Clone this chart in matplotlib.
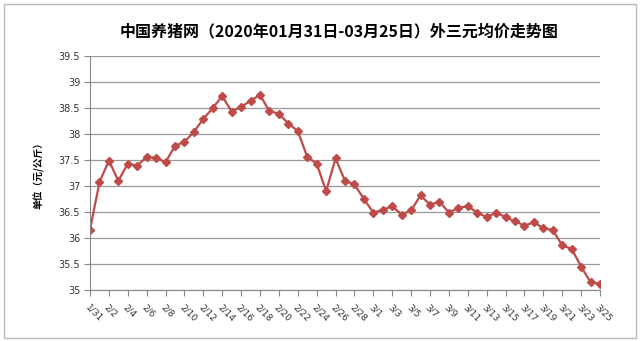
import matplotlib
matplotlib.use('Agg')
import matplotlib.pyplot as plt
from matplotlib.patches import Rectangle
import datetime as dt

plt.rcParams['font.family'] = ['Noto Sans CJK SC', 'DejaVu Sans']

# daily dates 2020-01-31 .. 2020-03-25
start = dt.date(2020, 1, 31)
dates = [start + dt.timedelta(days=i) for i in range(55)]
labels = [f'{d.month}/{d.day}' for d in dates]

# average price (yuan/kg)
prices = [36.16, 37.07, 37.49, 37.10, 37.43, 37.39, 37.56, 37.54, 37.46, 37.77,
          37.85, 38.04, 38.29, 38.50, 38.73, 38.43, 38.52, 38.64, 38.75, 38.44,
          38.39, 38.20, 38.06, 37.56, 37.43, 36.90, 37.53, 37.10, 37.03, 36.75,
          36.49, 36.54, 36.61, 36.45, 36.53, 36.82, 36.64, 36.70, 36.49, 36.58,
          36.61, 36.49, 36.40, 36.49, 36.40, 36.32, 36.24, 36.30, 36.19, 36.15,
          35.86, 35.79, 35.45, 35.15, 35.12]

yticks = [35, 35.5, 36, 36.5, 37, 37.5, 38, 38.5, 39, 39.5]

fig = plt.figure(figsize=(6.4, 3.41), dpi=100)
ax = fig.add_axes([90/640, 51/341, 510/640, 234/341])

x = list(range(len(prices)))
ax.plot(x, prices, color='#BE4B48', lw=1.6, marker='D', ms=3.8, mec='#BE4B48', mfc='#BE4B48')

ax.set_xlim(0, len(prices) - 1)
ax.set_ylim(35, 39.5)
ax.set_yticks(yticks)
ax.set_yticklabels([f'{v:g}' for v in yticks], fontsize=7, color='#333333', family='DejaVu Sans')
ax.set_xticks(x[::2])
ax.set_xticklabels(labels[::2], rotation=-45, ha='left', va='top', fontsize=6.5,
                   color='#333333', family='DejaVu Sans', rotation_mode='anchor')

ax.grid(axis='y', color='#999999', lw=0.9)
ax.set_axisbelow(True)
for s in ['top', 'right']:
    ax.spines[s].set_visible(False)
for s in ['left', 'bottom']:
    ax.spines[s].set_color('#888888')
ax.tick_params(axis='both', length=4, color='#888888', pad=3)
ax.tick_params(axis='x', pad=5)

ax.set_ylabel('单位（元/公斤）', fontsize=7, fontweight='bold', labelpad=10)

fig.text(0.53, 1 - 31/341, '中国养猪网（2020年01月31日-03月25日）外三元均价走势图',
         ha='center', va='center', fontsize=11.5, fontweight='bold')

fig.patches.append(Rectangle((4/640, 3/341), 632/640, 334/341, transform=fig.transFigure,
                             fill=False, edgecolor='#BBBBBB', lw=1))

fig.savefig('out.png', dpi=100)
